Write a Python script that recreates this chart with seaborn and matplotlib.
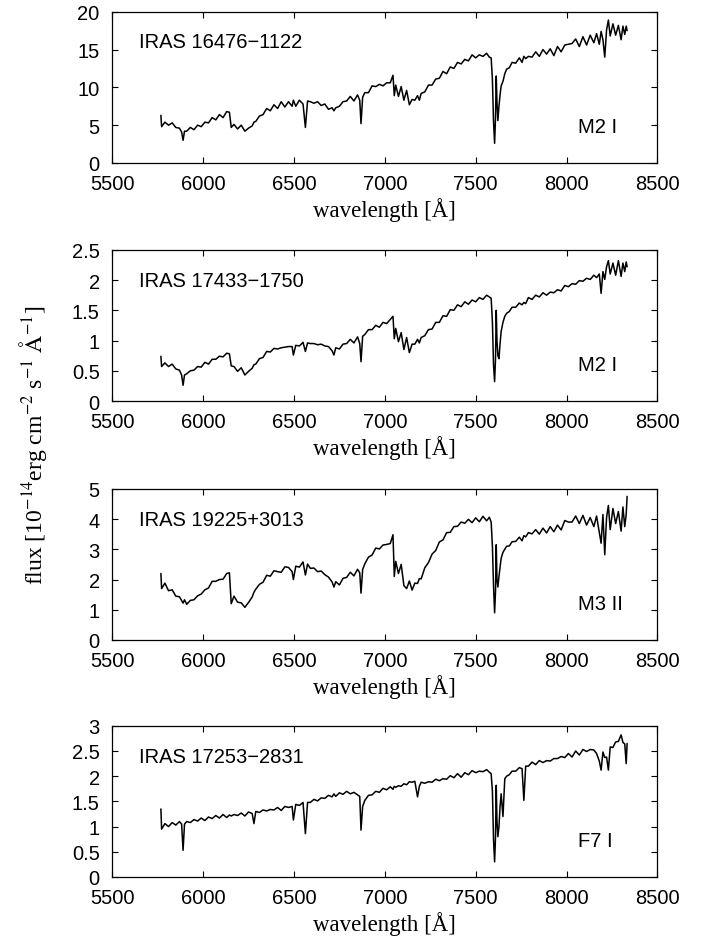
import matplotlib
matplotlib.use("Agg")
import matplotlib.pyplot as plt
from matplotlib.ticker import FormatStrFormatter
import numpy as np
import seaborn as sns


# wavelength grid shared by all four spectra (Angstrom)
wave = [
    5768, 5772, 5790, 5810, 5830, 5850, 5870, 5882, 5890, 5898,
    5910, 5930, 5950, 5970, 5990, 6010, 6030, 6050, 6070, 6090,
    6110, 6130, 6145, 6155, 6170, 6190, 6210, 6230, 6250, 6270,
    6280, 6290, 6310, 6330, 6350, 6370, 6390, 6410, 6430, 6450,
    6470, 6490, 6497, 6510, 6530, 6550, 6563, 6575, 6590, 6610,
    6630, 6650, 6670, 6690, 6710, 6720, 6730, 6750, 6770, 6790,
    6810, 6830, 6850, 6862, 6869, 6878, 6890, 6910, 6930, 6950,
    6970, 6990, 7010, 7030, 7045, 7052, 7060, 7075, 7090, 7105,
    7120, 7135, 7150, 7165, 7180, 7190, 7200, 7220, 7240, 7260,
    7280, 7300, 7320, 7340, 7360, 7380, 7400, 7420, 7440, 7460,
    7480, 7500, 7520, 7540, 7560, 7575, 7585, 7592, 7598, 7604,
    7609, 7613, 7617, 7622, 7628, 7634, 7640, 7650, 7660, 7670,
    7685, 7700, 7720, 7740, 7755, 7765, 7775, 7790, 7810, 7830,
    7850, 7870, 7890, 7910, 7930, 7950, 7970, 7990, 8010, 8030,
    8050, 8070, 8090, 8110, 8130, 8150, 8165, 8180, 8190, 8200,
    8210, 8220, 8230, 8240, 8255, 8270, 8285, 8300, 8310, 8320,
    8328, 8333,
]

flux_16476 = [
    6.3, 4.8, 5.4, 5.0, 5.3, 4.7, 4.6, 4.1, 3.0, 4.2,
    4.2, 4.7, 4.4, 5.0, 4.8, 5.4, 5.3, 6.0, 5.7, 6.4,
    6.0, 6.8, 6.7, 4.7, 5.1, 4.5, 5.0, 4.2, 4.6, 4.9,
    5.4, 5.5, 6.2, 6.4, 7.2, 6.9, 7.7, 7.2, 8.1, 7.4,
    8.1, 7.5, 8.3, 7.5, 8.3, 7.8, 4.7, 8.2, 8.1, 7.9,
    8.1, 7.6, 7.8, 7.1, 7.3, 6.9, 7.3, 7.5, 8.1, 8.2,
    8.8, 8.2, 9.0, 8.3, 5.2, 8.7, 9.3, 9.3, 10.2, 10.1,
    10.4, 10.2, 10.6, 10.6, 11.6, 8.9, 10.3, 8.8, 10.1, 8.3,
    9.6, 7.7, 8.4, 8.3, 8.9, 8.3, 9.2, 9.4, 10.3, 10.3,
    11.1, 11.2, 12.1, 11.8, 12.7, 12.5, 13.3, 13.1, 13.7, 13.5,
    14.3, 13.9, 14.3, 14.1, 14.5, 14.0, 13.9, 11.0, 5.5, 2.6,
    6.0, 11.5, 8.0, 5.6, 7.5, 9.0, 10.2, 10.8, 11.8, 12.4,
    12.6, 13.3, 13.2, 13.9, 13.3, 14.1, 13.8, 14.1, 14.0, 14.7,
    14.1, 15.0, 14.4, 15.1, 14.2, 15.4, 14.7, 15.6, 15.7, 15.8,
    16.4, 15.4, 16.7, 15.6, 16.9, 15.9, 17.1, 15.7, 17.4, 16.3,
    14.0, 17.6, 18.9, 16.8, 18.4, 16.9, 18.2, 16.3, 18.1, 17.0,
    18.1, 17.5,
]

flux_17433 = [
    0.74, 0.57, 0.63, 0.57, 0.61, 0.53, 0.51, 0.43, 0.26, 0.43,
    0.45, 0.50, 0.51, 0.57, 0.56, 0.64, 0.61, 0.69, 0.69, 0.74,
    0.73, 0.79, 0.78, 0.58, 0.57, 0.49, 0.55, 0.43, 0.49, 0.54,
    0.60, 0.61, 0.70, 0.72, 0.82, 0.81, 0.87, 0.86, 0.88, 0.89,
    0.90, 0.90, 0.76, 0.92, 0.91, 0.97, 0.82, 0.96, 0.95, 0.95,
    0.93, 0.94, 0.91, 0.90, 0.83, 0.76, 0.88, 0.86, 0.94, 0.95,
    1.02, 0.96, 1.06, 0.95, 0.65, 1.07, 1.10, 1.18, 1.18, 1.25,
    1.22, 1.30, 1.28, 1.35, 1.40, 1.03, 1.20, 0.98, 1.13, 0.85,
    1.05, 0.80, 0.94, 0.94, 1.02, 0.96, 1.05, 1.08, 1.18, 1.19,
    1.30, 1.30, 1.41, 1.40, 1.51, 1.50, 1.59, 1.56, 1.64, 1.60,
    1.67, 1.64, 1.71, 1.68, 1.75, 1.72, 1.70, 1.30, 0.60, 0.32,
    0.70, 1.50, 1.00, 0.75, 0.70, 0.95, 1.15, 1.30, 1.40, 1.45,
    1.48, 1.55, 1.55, 1.62, 1.59, 1.63, 1.61, 1.71, 1.68, 1.75,
    1.72, 1.79, 1.75, 1.80, 1.79, 1.84, 1.82, 1.91, 1.89, 1.94,
    1.93, 1.99, 1.98, 2.03, 2.01, 2.08, 2.04, 2.10, 1.78, 2.14,
    2.01, 2.22, 2.32, 2.10, 2.28, 2.08, 2.32, 2.06, 2.28, 2.14,
    2.30, 2.22,
]

flux_19225 = [
    2.20, 1.70, 1.88, 1.63, 1.66, 1.45, 1.43, 1.30, 1.22, 1.33,
    1.18, 1.31, 1.33, 1.46, 1.52, 1.66, 1.72, 1.94, 1.94, 2.00,
    2.01, 2.20, 2.22, 1.20, 1.45, 1.25, 1.23, 1.08, 1.24, 1.42,
    1.58, 1.68, 1.84, 1.91, 2.14, 2.11, 2.29, 2.26, 2.24, 2.42,
    2.40, 2.26, 2.00, 2.44, 2.41, 2.58, 2.15, 2.51, 2.37, 2.38,
    2.26, 2.28, 2.16, 2.08, 1.92, 1.75, 1.93, 1.82, 2.04, 2.07,
    2.24, 2.12, 2.34, 2.22, 1.55, 2.33, 2.52, 2.74, 2.81, 3.04,
    3.01, 3.14, 3.16, 3.19, 3.48, 2.10, 2.60, 2.20, 2.50, 1.80,
    1.70, 1.95, 1.65, 1.88, 1.87, 2.03, 2.02, 2.39, 2.56, 2.84,
    2.96, 3.24, 3.31, 3.55, 3.56, 3.75, 3.76, 3.90, 3.86, 3.99,
    3.88, 4.04, 3.91, 4.09, 3.94, 4.06, 3.90, 3.10, 1.80, 0.90,
    1.60, 3.15, 2.00, 1.75, 2.10, 2.40, 2.70, 2.90, 3.00, 3.10,
    3.11, 3.25, 3.26, 3.40, 3.28, 3.45, 3.41, 3.55, 3.51, 3.65,
    3.50, 3.70, 3.54, 3.75, 3.58, 3.80, 3.64, 3.95, 3.90, 3.90,
    4.10, 3.85, 4.12, 3.80, 4.05, 3.75, 4.10, 3.55, 3.20, 4.15,
    2.82, 4.05, 4.45, 3.65, 4.35, 3.85, 4.25, 3.60, 4.40, 3.75,
    4.15, 4.75,
]

flux_17253 = [
    1.35, 0.95, 1.06, 1.00, 1.08, 1.03, 1.10, 1.05, 0.53, 1.05,
    1.10, 1.08, 1.14, 1.11, 1.17, 1.12, 1.19, 1.16, 1.22, 1.17,
    1.24, 1.18, 1.23, 1.21, 1.24, 1.22, 1.27, 1.21, 1.29, 1.26,
    1.06, 1.30, 1.28, 1.33, 1.31, 1.34, 1.33, 1.38, 1.32, 1.40,
    1.38, 1.40, 1.13, 1.44, 1.42, 1.48, 0.86, 1.48, 1.48, 1.54,
    1.51, 1.57, 1.56, 1.62, 1.59, 1.65, 1.60, 1.67, 1.64, 1.70,
    1.65, 1.68, 1.63, 1.60, 0.93, 1.40, 1.52, 1.62, 1.63, 1.70,
    1.68, 1.76, 1.73, 1.79, 1.74, 1.80, 1.78, 1.81, 1.80, 1.85,
    1.83, 1.89, 1.88, 1.90, 1.59, 1.80, 1.88, 1.86, 1.89, 1.88,
    1.94, 1.91, 1.95, 1.94, 2.01, 1.97, 2.05, 1.98, 2.07, 2.03,
    2.11, 2.07, 2.10, 2.09, 2.13, 2.08, 2.05, 1.70, 0.75, 0.30,
    0.80, 1.82, 1.10, 0.80, 1.00, 1.40, 1.65, 1.20, 1.95, 2.00,
    2.03, 2.10, 2.10, 2.17, 2.15, 1.52, 2.20, 2.20, 2.28, 2.23,
    2.31, 2.27, 2.31, 2.30, 2.35, 2.35, 2.39, 2.37, 2.45, 2.38,
    2.50, 2.42, 2.53, 2.49, 2.53, 2.52, 2.45, 2.30, 2.12, 2.48,
    2.37, 2.38, 2.12, 2.58, 2.57, 2.68, 2.69, 2.82, 2.67, 2.64,
    2.25, 2.65,
]

names = ["IRAS 16476\u22121122", "IRAS 17433\u22121750",
         "IRAS 19225+3013", "IRAS 17253\u22122831"]
sptypes = ["M2 I", "M2 I", "M3 II", "F7 I"]
fluxes = [flux_16476, flux_17433, flux_19225, flux_17253]
ymax = [20, 2.5, 5, 3]
ystep = [5, 0.5, 1, 0.5]
xticks = [5500, 6000, 6500, 7000, 7500, 8000, 8500]

sns.set_theme(style="ticks")
plt.rcParams["font.family"] = ["Liberation Sans", "DejaVu Sans"]
plt.rcParams["mathtext.fontset"] = "stix"

fig = plt.figure(figsize=(7.1, 9.45), dpi=100)
bottoms = [0.8265, 0.5746, 0.3217, 0.0709]

for i in range(4):
    ax = fig.add_axes([0.158, bottoms[i], 0.768, 0.160])
    sns.lineplot(x=wave, y=fluxes[i], ax=ax, color="black", lw=1.1,
                 estimator=None, sort=False)
    ax.set_xlim(5500, 8500)
    ax.set_ylim(0, ymax[i])
    ax.set_xticks(xticks)
    ax.set_yticks(np.arange(0, ymax[i] + ystep[i] / 2, ystep[i]))
    ax.yaxis.set_major_formatter(FormatStrFormatter("%g"))
    ax.tick_params(direction="in", length=4, width=0.8, labelsize=14.5,
                   top=True, right=True, colors="black")
    ax.tick_params(axis="x", pad=8)
    ax.tick_params(axis="y", pad=9)
    for sp in ax.spines.values():
        sp.set_linewidth(0.9)
        sp.set_color("black")
    ax.set_xlabel("wavelength [\u00c5]", family="Liberation Serif",
                  fontsize=16.5, color="black")
    ax.xaxis.set_label_coords(0.5, -46 / 151)
    ax.xaxis.label.set_va("center")
    ax.set_ylabel("")
    ax.text(0.05, 0.80, names[i], transform=ax.transAxes, fontsize=14.5,
            ha="left", va="center", color="black")
    ax.text(0.855, 0.24, sptypes[i], transform=ax.transAxes, fontsize=14.5,
            ha="left", va="center", color="black")

fig.text(33 / 710, 1 - 445 / 945,
         r"flux [10$^{-14}$erg cm$^{-2}$ s$^{-1}$ $\mathrm{\AA}^{-1}$]",
         rotation=90, ha="center", va="center", fontsize=17,
         family="Liberation Serif", color="black")

fig.savefig("out.png", dpi=100, facecolor="white")
